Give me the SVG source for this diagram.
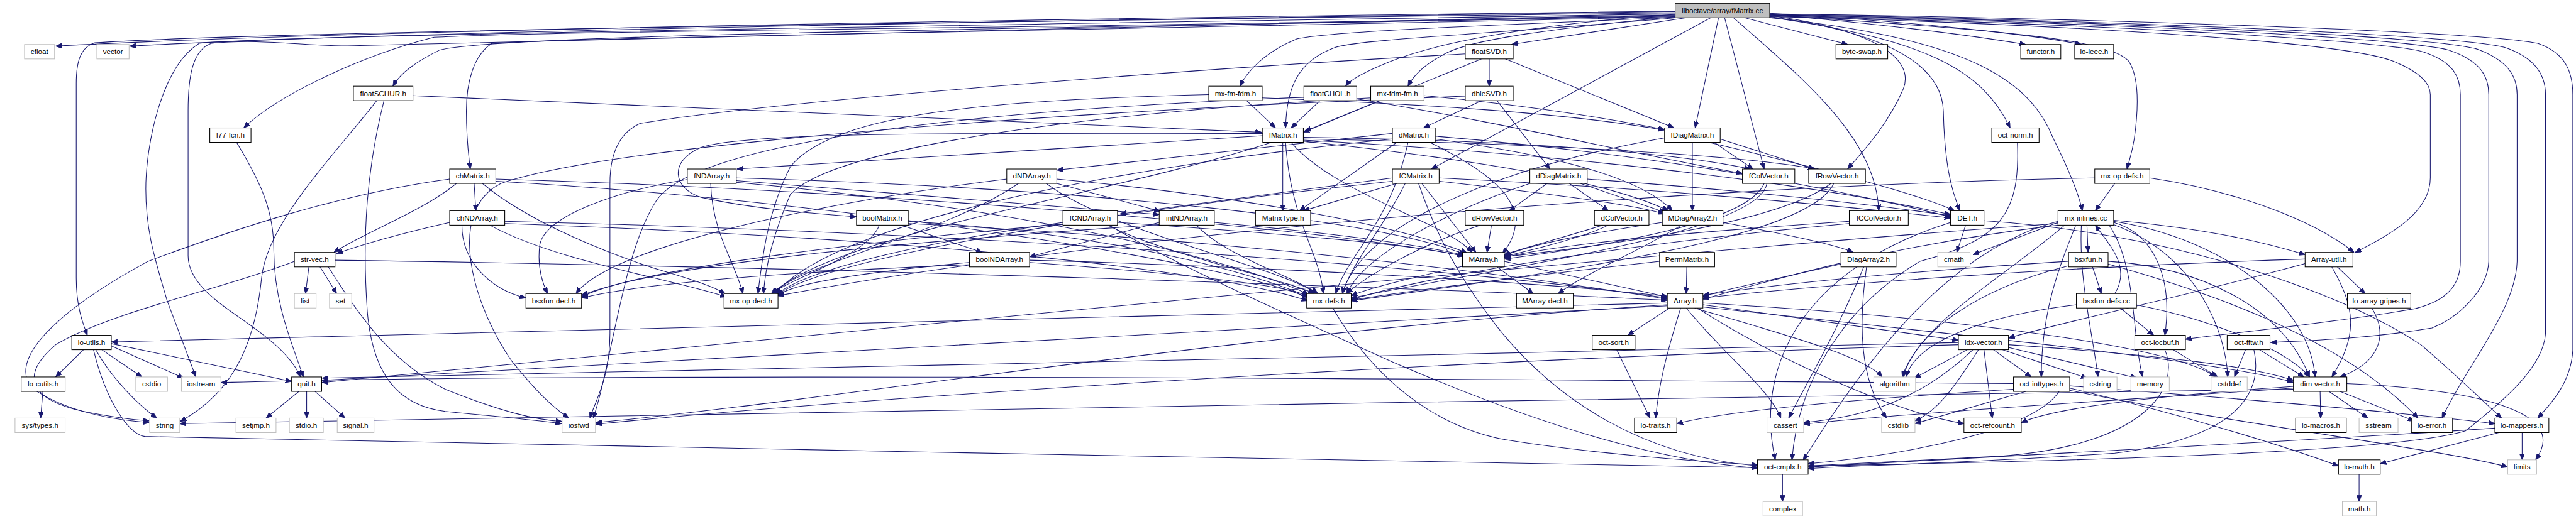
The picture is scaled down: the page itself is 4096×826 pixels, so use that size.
<svg xmlns="http://www.w3.org/2000/svg" width="4096" height="826" viewBox="0 0 4096 826">
<style>
.e path{fill:none;stroke:#191970;stroke-width:1.2;marker-end:url(#a)}
.n rect{fill:#fff;stroke:#000;stroke-width:1.2}
.s rect{fill:#fff;stroke:#bfbfbf;stroke-width:1.2}
.r rect{fill:#bfbfbf;stroke:#000;stroke-width:1.2}
text{font-family:"Liberation Sans",Arial,Helvetica,sans-serif;font-size:13.2px;text-anchor:middle;fill:#000}
</style>
<defs>
<marker id="a" viewBox="0 0 10 10" refX="10" refY="5" markerWidth="11" markerHeight="9" markerUnits="userSpaceOnUse" orient="auto" preserveAspectRatio="none"><path d="M0,0 L10,5 L0,10 z" fill="#191970" stroke="#191970"/></marker>
</defs>
<rect width="4096" height="826" fill="#fff"/>
<g transform="scale(0.8849)">
<g id="edges" class="e">
<path d="M3010,20 C2200,30 700,50 100,83"/>
<path d="M3010,21 C2200,32 800,52 233,83"/>
<path d="M3010,23 C2000,36 500,55 170,77 C145,85 137,110 137,150 L137,500 C137,550 148,580 157,603"/>
<path d="M3010,25 C2000,42 500,62 358,78 C290,120 262,260 262,340 C262,420 280,470 300,540 L352,678"/>
<path d="M3010,27 C2000,45 900,70 647,82 C560,86 480,68 380,78 C345,90 338,140 338,200 L338,460 C338,520 420,560 470,600 C510,630 530,655 540,678"/>
<path d="M3010,28 C2000,50 1000,55 780,67 C650,100 500,170 438,230"/>
<path d="M3010,29 C2000,50 900,60 790,90 C750,110 720,130 706,155"/>
<path d="M3010,30 C2200,50 1000,68 884,78 C850,100 838,150 838,200 C838,250 842,280 845,304"/>
<path d="M3012,31 C2700,45 2400,55 2330,70 C2270,95 2240,130 2228,155"/>
<path d="M3010,26 C2800,40 2600,70 2500,110 C2450,130 2425,145 2418,155"/>
<path d="M3012,30 C2800,50 2650,70 2600,95 C2560,115 2540,135 2530,155"/>
<path d="M3012,32 C2700,60 2450,70 2400,85 C2330,110 2312,160 2310,230"/>
<path d="M3030,32 L2716,80"/>
<path d="M3074,32 L2572,304"/>
<path d="M3088,32 L3046,230"/>
<path d="M3135,32 L3320,80"/>
<path d="M3099,32 L3170,304"/>
<path d="M3180,28 C3380,55 3440,110 3420,160 C3390,230 3340,280 3320,304"/>
<path d="M3115,32 C3250,150 3370,250 3376,379"/>
<path d="M3180,30 C3400,60 3490,120 3492,200 C3494,290 3505,340 3522,379"/>
<path d="M3180,31 C3450,70 3560,120 3612,230"/>
<path d="M3180,32 C3550,70 3650,150 3690,250 C3720,310 3735,350 3742,379"/>
<path d="M3180,26 C3400,45 3550,65 3640,80"/>
<path d="M3180,24 C3450,40 3650,62 3740,80"/>
<path d="M3180,27 C3600,55 3790,70 3825,110 C3845,140 3842,200 3835,250 C3830,280 3824,295 3822,304"/>
<path d="M3180,30 C3600,40 4200,70 4300,110 C4350,130 4367,150 4367,170 L4367,320 C4367,380 4300,420 4232,454"/>
<path d="M3180,29 C3700,40 4250,70 4350,92 C4410,110 4421,140 4421,170 L4421,470 C4421,510 4400,540 4340,555 C4200,580 4000,600 3927,610"/>
<path d="M3180,28 C3700,38 4300,65 4400,90 C4460,110 4472,140 4472,170 L4472,470 C4470,520 4420,570 4370,590 C4250,610 4150,612 4080,616"/>
<path d="M3180,27 C3700,36 4350,62 4450,88 C4510,110 4523,140 4523,170 L4523,470 C4520,560 4430,660 4388,752"/>
<path d="M3180,26 C3700,34 4400,60 4500,85 C4560,105 4574,140 4574,170 L4574,600 C4570,660 4500,720 4430,775 C4300,815 3700,830 3249,838"/>
<path d="M3180,25 C3700,32 4450,55 4560,78 C4610,95 4623,130 4623,170 L4623,630 C4620,690 4580,730 4560,752"/>
<path d="M2676,106 L2676,155"/>
<path d="M2662,106 L2345,236"/>
<path d="M2705,106 L3008,230"/>
<path d="M2633,97 C2200,120 1400,180 1150,222 C1110,240 1096,280 1096,330 L1096,600 C1096,680 1070,720 1060,752"/>
<path d="M2662,181 L2558,230"/>
<path d="M2690,181 L2785,304"/>
<path d="M2633,173 C1900,200 1100,260 900,330 C800,380 850,550 920,650 C960,700 990,730 1022,752"/>
<path d="M742,172 L2267,238"/>
<path d="M677,181 C600,280 480,400 470,500 C460,600 430,700 324,758"/>
<path d="M690,181 C660,300 650,420 660,560 C670,680 720,730 800,740 C900,750 960,755 1009,762"/>
<path d="M2240,181 L2292,230"/>
<path d="M2268,176 C2500,185 2800,200 2990,234"/>
<path d="M2172,170 C1800,180 1500,200 1420,300 C1380,380 1370,460 1362,528"/>
<path d="M2372,181 L2320,230"/>
<path d="M2438,178 C2700,220 2950,280 3131,312"/>
<path d="M2343,175 C1700,200 1250,260 1180,360 C1120,450 1100,650 1066,752"/>
<path d="M2480,181 L2342,238"/>
<path d="M2559,172 C2750,190 2900,215 2991,233"/>
<path d="M2463,176 C2000,200 1500,260 1420,350 C1390,420 1375,480 1372,528"/>
<path d="M425,256 C470,330 492,380 492,450 C492,550 530,630 545,678"/>
<path d="M2305,256 L2305,379"/>
<path d="M2269,244 L1324,304"/>
<path d="M2269,240 C1800,240 1350,235 1260,265 C1200,290 1210,340 1260,355 C1350,375 1450,383 1539,390"/>
<path d="M2342,247 C2700,252 3000,272 3145,304"/>
<path d="M2342,250 C2800,258 3150,282 3262,304"/>
<path d="M2342,252 C2900,282 3300,340 3505,386"/>
<path d="M2320,256 C2400,350 2600,400 2645,454"/>
<path d="M2342,254 C2700,292 2900,332 2998,379"/>
<path d="M2310,256 C2320,400 2370,450 2378,528"/>
<path d="M2285,256 C2000,350 1500,420 1388,528"/>
<path d="M2502,240 L1899,306"/>
<path d="M2510,256 L2335,379"/>
<path d="M2569,256 C2700,320 2760,380 2700,456"/>
<path d="M2579,250 C2800,280 2950,320 3005,379"/>
<path d="M2579,245 C3000,280 3300,340 3505,390"/>
<path d="M2530,256 C2500,400 2420,460 2400,528"/>
<path d="M2502,250 C2000,300 1500,400 1393,528"/>
<path d="M3041,256 L3041,379"/>
<path d="M3080,256 L3150,304"/>
<path d="M3091,250 L3260,304"/>
<path d="M3070,256 C3300,310 3450,350 3512,379"/>
<path d="M2991,248 C2700,300 2450,400 2412,528"/>
<path d="M3625,256 C3630,380 3600,430 3450,470 C3300,560 3230,700 3220,827"/>
<path d="M852,330 L855,379"/>
<path d="M820,330 C760,380 650,420 600,454"/>
<path d="M808,322 C600,350 400,420 266,470 C100,560 10,650 60,700 C120,740 200,755 268,760"/>
<path d="M891,322 C1500,340 2300,400 2630,460"/>
<path d="M891,326 C1500,360 2200,470 2350,535"/>
<path d="M867,330 C950,400 1100,460 1200,490 C1250,505 1280,515 1303,528"/>
<path d="M1235,323 C1100,345 980,390 970,440 C965,480 975,510 984,528"/>
<path d="M1323,325 L2083,386"/>
<path d="M1323,320 C2000,340 2500,400 2632,458"/>
<path d="M1323,328 C1900,380 2250,480 2352,530"/>
<path d="M1277,330 C1280,420 1320,470 1335,528"/>
<path d="M1899,330 L2085,380"/>
<path d="M1899,322 C2200,350 2500,400 2636,455"/>
<path d="M1880,330 C2000,420 2300,480 2366,528"/>
<path d="M1830,330 C1700,420 1450,470 1386,528"/>
<path d="M1809,322 C1500,360 1100,440 1035,528"/>
<path d="M2502,320 L2012,385"/>
<path d="M2510,330 L2342,379"/>
<path d="M2555,330 L2652,454"/>
<path d="M2586,320 C3000,340 3300,370 3505,392"/>
<path d="M2525,330 C2480,420 2430,470 2412,528"/>
<path d="M2586,326 C2800,350 2950,370 2990,385"/>
<path d="M2549,330 C2580,420 2620,500 2700,600 C2800,720 2950,820 3158,838"/>
<path d="M2502,326 C2000,380 1500,460 1396,530"/>
<path d="M2780,330 L2712,379"/>
<path d="M2820,330 L2890,379"/>
<path d="M2840,330 L2992,382"/>
<path d="M2852,322 C3100,340 3350,365 3505,388"/>
<path d="M2749,330 C2600,380 2450,460 2420,528"/>
<path d="M3170,330 C3140,400 2900,440 2703,466"/>
<path d="M3175,330 C3160,420 2700,480 2428,536"/>
<path d="M3290,330 C3200,400 2900,440 2703,462"/>
<path d="M3295,330 C3250,430 2800,490 2428,541"/>
<path d="M3800,330 L3765,379"/>
<path d="M3764,320 C3000,335 2000,420 1398,532"/>
<path d="M3863,320 C4000,340 4150,390 4230,454"/>
<path d="M808,400 C720,420 650,440 605,456"/>
<path d="M907,398 C1800,420 2600,480 2996,536"/>
<path d="M907,402 C1700,430 2200,490 2350,541"/>
<path d="M880,405 C1000,470 1200,500 1305,534"/>
<path d="M830,405 C830,470 880,520 945,536"/>
<path d="M1620,405 L1765,454"/>
<path d="M1632,398 C2000,420 2250,490 2352,534"/>
<path d="M1580,405 C1560,460 1420,500 1388,528"/>
<path d="M1632,402 C2200,430 2700,490 2996,538"/>
<path d="M2008,400 C2300,420 2550,440 2630,461"/>
<path d="M1990,405 C2100,460 2300,500 2362,528"/>
<path d="M1910,400 C1700,430 1450,480 1394,531"/>
<path d="M1910,403 C1600,430 1150,480 1045,534"/>
<path d="M1993,405 C2100,470 2300,560 2500,650 C2800,780 3000,830 3158,842"/>
<path d="M2083,400 L1850,462"/>
<path d="M2182,400 C2400,420 2550,440 2630,459"/>
<path d="M2083,404 C1700,430 1200,470 1045,531"/>
<path d="M2150,405 C2200,460 2330,500 2368,528"/>
<path d="M2680,405 L2672,454"/>
<path d="M2660,405 C2550,440 2450,500 2420,528"/>
<path d="M2880,405 C2800,430 2740,445 2703,458"/>
<path d="M2890,405 C2800,450 2500,500 2428,532"/>
<path d="M3096,400 C3200,420 3300,440 3330,454"/>
<path d="M2987,400 C2850,420 2750,440 2703,460"/>
<path d="M3021,405 C2950,450 2850,490 2800,528"/>
<path d="M3323,398 C3000,420 2800,440 2703,463"/>
<path d="M3323,402 C2900,440 2550,500 2428,539"/>
<path d="M3532,405 L3516,454"/>
<path d="M3565,397 C3900,420 4200,520 4350,620 C4420,680 4460,720 4495,752"/>
<path d="M3505,400 C3250,480 3150,650 3190,827"/>
<path d="M3698,400 L3545,458"/>
<path d="M3750,405 L3752,454"/>
<path d="M3698,398 C3500,450 3350,650 3240,828"/>
<path d="M3698,402 C3000,450 1500,600 578,688"/>
<path d="M3798,400 C3870,420 3905,500 3890,603"/>
<path d="M3730,405 C3700,480 3668,560 3668,678"/>
<path d="M3710,405 C3600,500 3450,580 3418,678"/>
<path d="M3740,405 C3735,500 3760,600 3770,678"/>
<path d="M3790,405 C3840,480 3830,600 3850,678"/>
<path d="M3798,404 C3950,460 4000,600 4003,678"/>
<path d="M3798,398 C4000,430 4150,550 4160,678"/>
<path d="M3798,396 C3950,410 4050,430 4142,458"/>
<path d="M3698,405 C3400,440 3200,500 3060,538"/>
<path d="M555,480 L549,528"/>
<path d="M575,480 L605,528"/>
<path d="M529,470 C400,520 200,560 100,620 C30,680 60,720 150,740 C200,750 240,755 268,757"/>
<path d="M602,468 C1500,480 2600,520 2996,540"/>
<path d="M590,480 C640,560 700,650 800,700 C900,740 960,755 1010,758"/>
<path d="M1850,472 C2100,490 2300,510 2350,532"/>
<path d="M1742,472 C1550,490 1420,510 1398,532"/>
<path d="M1742,476 C1400,490 1150,510 1045,536"/>
<path d="M1850,468 C2300,480 2800,510 2996,533"/>
<path d="M2703,470 L2996,534"/>
<path d="M2690,480 L2755,528"/>
<path d="M3031,480 L3030,528"/>
<path d="M2982,470 C2800,490 2550,520 2428,540"/>
<path d="M3308,475 C3200,500 3100,520 3060,533"/>
<path d="M3349,480 C3300,600 3240,700 3214,752"/>
<path d="M3354,480 C3340,580 3340,680 3390,752"/>
<path d="M3760,480 L3776,528"/>
<path d="M3717,470 C3400,490 3200,510 3060,531"/>
<path d="M3788,470 C3950,480 4100,550 4150,678"/>
<path d="M3717,478 C3550,520 3440,600 3420,678"/>
<path d="M3788,475 C3950,520 4200,600 4345,752"/>
<path d="M3800,528 C3830,480 3790,440 3765,405"/>
<path d="M3810,554 L3870,603"/>
<path d="M3838,548 C3950,570 4100,620 4150,678"/>
<path d="M3731,548 C3550,570 3440,620 3425,678"/>
<path d="M4142,466 C3700,480 3300,510 3060,536"/>
<path d="M4200,480 L4250,528"/>
<path d="M4190,480 C4230,550 4240,600 4190,678"/>
<path d="M4142,474 C3900,540 3700,580 3609,608"/>
<path d="M4262,554 C4290,600 4280,650 4205,678"/>
<path d="M3000,554 L2925,603"/>
<path d="M3020,554 C2990,650 2980,700 2975,752"/>
<path d="M3060,548 L3519,612"/>
<path d="M3060,552 C3500,600 4000,650 4121,688"/>
<path d="M3045,554 C3200,600 3350,640 3382,678"/>
<path d="M3030,554 C3100,640 3180,700 3200,752"/>
<path d="M3060,545 C3500,570 3900,620 3982,678"/>
<path d="M2996,548 C2200,600 1500,720 1071,760"/>
<path d="M3050,554 C3200,650 3400,740 3529,762"/>
<path d="M2996,550 C2000,600 1000,660 579,684"/>
<path d="M2996,545 C2000,570 1000,600 200,615"/>
<path d="M3535,629 L3440,680"/>
<path d="M3545,629 C3450,720 3350,750 3241,760"/>
<path d="M3555,629 C3510,700 3480,740 3441,757"/>
<path d="M3565,629 L3580,752"/>
<path d="M3582,629 L3650,678"/>
<path d="M3598,629 L3750,680"/>
<path d="M3609,625 L3840,680"/>
<path d="M3609,620 C3900,640 4050,660 4121,684"/>
<path d="M3519,620 C2500,650 1500,720 1071,763"/>
<path d="M3519,616 C2500,640 1200,670 579,680"/>
<path d="M3905,629 L3985,678"/>
<path d="M3890,629 C3920,700 3850,800 3600,820 C3400,830 3300,835 3249,838"/>
<path d="M4035,629 L4015,678"/>
<path d="M4060,629 L4140,678"/>
<path d="M4050,629 C4070,720 4000,790 3800,815 C3500,835 3300,838 3249,843"/>
<path d="M3640,704 L3441,762"/>
<path d="M3618,700 C3300,720 3100,740 3013,762"/>
<path d="M3719,698 C3900,740 4100,800 4202,838"/>
<path d="M3719,702 C4000,760 4400,810 4506,840"/>
<path d="M3700,704 C3650,780 3400,820 3249,834"/>
<path d="M3618,690 C2500,680 1000,670 397,688"/>
<path d="M3719,694 C4000,715 4300,740 4483,762"/>
<path d="M4169,704 L4170,752"/>
<path d="M4185,704 L4255,752"/>
<path d="M4205,704 L4338,757"/>
<path d="M4216,690 C4450,700 4620,740 4556,827"/>
<path d="M4121,695 C3900,710 3700,730 3632,760"/>
<path d="M4121,698 C3800,720 3400,745 3241,763"/>
<path d="M4121,700 C3000,720 1000,740 323,762"/>
<path d="M150,629 L100,678"/>
<path d="M183,629 L255,678"/>
<path d="M200,622 L330,680"/>
<path d="M172,629 C200,680 250,730 282,752"/>
<path d="M200,618 L524,686"/>
<path d="M168,629 C190,720 230,780 260,785 C1000,800 2500,830 3158,841"/>
<path d="M77,704 L73,752"/>
<path d="M537,704 L478,752"/>
<path d="M551,704 L551,752"/>
<path d="M566,704 L620,752"/>
<path d="M2905,629 L2965,752"/>
<path d="M2395,554 C2450,650 2550,760 2700,790 C2850,815 3050,830 3158,836"/>
<path d="M4483,770 C4200,790 3600,820 3249,840"/>
<path d="M4490,778 L4277,834"/>
<path d="M4532,778 L4532,827"/>
<path d="M4239,853 L4239,902"/>
<path d="M3203,853 L3203,902"/>
</g>
<g id="n-top" class="r"><rect x="3010" y="6" width="170" height="26"/><text x="3095" y="23.5">liboctave/array/fMatrix.cc</text></g>
<g id="n-cfloat" class="s"><rect x="44" y="80" width="54" height="26"/><text x="71" y="97.5">cfloat</text></g>
<g id="n-vector" class="s"><rect x="174" y="80" width="58" height="26"/><text x="203" y="97.5">vector</text></g>
<g id="n-floatSVD" class="n"><rect x="2633" y="80" width="86" height="26"/><text x="2676" y="97.5">floatSVD.h</text></g>
<g id="n-byteswap" class="n"><rect x="3299" y="80" width="93" height="26"/><text x="3345.5" y="97.5">byte-swap.h</text></g>
<g id="n-functor" class="n"><rect x="3631" y="80" width="72" height="26"/><text x="3667" y="97.5">functor.h</text></g>
<g id="n-loieee" class="n"><rect x="3728" y="80" width="70" height="26"/><text x="3763" y="97.5">lo-ieee.h</text></g>
<g id="n-floatSCHUR" class="n"><rect x="635" y="155" width="107" height="26"/><text x="688.5" y="172.5">floatSCHUR.h</text></g>
<g id="n-mxfmfdm" class="n"><rect x="2172" y="155" width="96" height="26"/><text x="2220" y="172.5">mx-fm-fdm.h</text></g>
<g id="n-floatCHOL" class="n"><rect x="2343" y="155" width="95" height="26"/><text x="2390.5" y="172.5">floatCHOL.h</text></g>
<g id="n-mxfdmfm" class="n"><rect x="2463" y="155" width="96" height="26"/><text x="2511" y="172.5">mx-fdm-fm.h</text></g>
<g id="n-dbleSVD" class="n"><rect x="2633" y="155" width="86" height="26"/><text x="2676" y="172.5">dbleSVD.h</text></g>
<g id="n-f77fcn" class="n"><rect x="377" y="230" width="74" height="26"/><text x="414" y="247.5">f77-fcn.h</text></g>
<g id="n-fMatrix" class="n"><rect x="2269" y="230" width="73" height="26"/><text x="2305.5" y="247.5">fMatrix.h</text></g>
<g id="n-dMatrix" class="n"><rect x="2502" y="230" width="77" height="26"/><text x="2540.5" y="247.5">dMatrix.h</text></g>
<g id="n-fDiagMatrix" class="n"><rect x="2991" y="230" width="100" height="26"/><text x="3041" y="247.5">fDiagMatrix.h</text></g>
<g id="n-octnorm" class="n"><rect x="3579" y="230" width="85" height="26"/><text x="3621.5" y="247.5">oct-norm.h</text></g>
<g id="n-chMatrix" class="n"><rect x="808" y="304" width="83" height="26"/><text x="849.5" y="321.5">chMatrix.h</text></g>
<g id="n-fNDArray" class="n"><rect x="1235" y="304" width="88" height="26"/><text x="1279" y="321.5">fNDArray.h</text></g>
<g id="n-dNDArray" class="n"><rect x="1809" y="304" width="90" height="26"/><text x="1854" y="321.5">dNDArray.h</text></g>
<g id="n-fCMatrix" class="n"><rect x="2502" y="304" width="84" height="26"/><text x="2544" y="321.5">fCMatrix.h</text></g>
<g id="n-dDiagMatrix" class="n"><rect x="2749" y="304" width="103" height="26"/><text x="2800.5" y="321.5">dDiagMatrix.h</text></g>
<g id="n-fColVector" class="n"><rect x="3131" y="304" width="94" height="26"/><text x="3178" y="321.5">fColVector.h</text></g>
<g id="n-fRowVector" class="n"><rect x="3250" y="304" width="102" height="26"/><text x="3301" y="321.5">fRowVector.h</text></g>
<g id="n-mxopdefs" class="n"><rect x="3764" y="304" width="99" height="26"/><text x="3813.5" y="321.5">mx-op-defs.h</text></g>
<g id="n-chNDArray" class="n"><rect x="808" y="379" width="99" height="26"/><text x="857.5" y="396.5">chNDArray.h</text></g>
<g id="n-boolMatrix" class="n"><rect x="1539" y="379" width="93" height="26"/><text x="1585.5" y="396.5">boolMatrix.h</text></g>
<g id="n-fCNDArray" class="n"><rect x="1910" y="379" width="98" height="26"/><text x="1959" y="396.5">fCNDArray.h</text></g>
<g id="n-intNDArray" class="n"><rect x="2083" y="379" width="99" height="26"/><text x="2132.5" y="396.5">intNDArray.h</text></g>
<g id="n-MatrixType" class="n"><rect x="2256" y="379" width="99" height="26"/><text x="2305.5" y="396.5">MatrixType.h</text></g>
<g id="n-dRowVector" class="n"><rect x="2633" y="379" width="105" height="26"/><text x="2685.5" y="396.5">dRowVector.h</text></g>
<g id="n-dColVector" class="n"><rect x="2865" y="379" width="98" height="26"/><text x="2914" y="396.5">dColVector.h</text></g>
<g id="n-MDiagArray2" class="n"><rect x="2987" y="379" width="109" height="26"/><text x="3041.5" y="396.5">MDiagArray2.h</text></g>
<g id="n-fCColVector" class="n"><rect x="3323" y="379" width="106" height="26"/><text x="3376" y="396.5">fCColVector.h</text></g>
<g id="n-DET" class="n"><rect x="3505" y="379" width="60" height="26"/><text x="3535" y="396.5">DET.h</text></g>
<g id="n-mxinlines" class="n"><rect x="3698" y="379" width="100" height="26"/><text x="3748" y="396.5">mx-inlines.cc</text></g>
<g id="n-strvec" class="n"><rect x="529" y="454" width="73" height="26"/><text x="565.5" y="471.5">str-vec.h</text></g>
<g id="n-boolNDArray" class="n"><rect x="1742" y="454" width="108" height="26"/><text x="1796" y="471.5">boolNDArray.h</text></g>
<g id="n-MArray" class="n"><rect x="2628" y="454" width="75" height="26"/><text x="2665.5" y="471.5">MArray.h</text></g>
<g id="n-PermMatrix" class="n"><rect x="2982" y="454" width="99" height="26"/><text x="3031.5" y="471.5">PermMatrix.h</text></g>
<g id="n-DiagArray2" class="n"><rect x="3308" y="454" width="99" height="26"/><text x="3357.5" y="471.5">DiagArray2.h</text></g>
<g id="n-cmath" class="s"><rect x="3482" y="454" width="58" height="26"/><text x="3511" y="471.5">cmath</text></g>
<g id="n-bsxfun" class="n"><rect x="3717" y="454" width="71" height="26"/><text x="3752.5" y="471.5">bsxfun.h</text></g>
<g id="n-ArrayUtil" class="n"><rect x="4142" y="454" width="86" height="26"/><text x="4185" y="471.5">Array-util.h</text></g>
<g id="n-list" class="s"><rect x="529" y="528" width="39" height="26"/><text x="548.5" y="545.5">list</text></g>
<g id="n-set" class="s"><rect x="592" y="528" width="40" height="26"/><text x="612" y="545.5">set</text></g>
<g id="n-bsxfundecl" class="n"><rect x="945" y="528" width="100" height="26"/><text x="995" y="545.5">bsxfun-decl.h</text></g>
<g id="n-mxopdecl" class="n"><rect x="1301" y="528" width="97" height="26"/><text x="1349.5" y="545.5">mx-op-decl.h</text></g>
<g id="n-mxdefs" class="n"><rect x="2348" y="528" width="80" height="26"/><text x="2388" y="545.5">mx-defs.h</text></g>
<g id="n-MArraydecl" class="n"><rect x="2725" y="528" width="102" height="26"/><text x="2776" y="545.5">MArray-decl.h</text></g>
<g id="n-Array" class="n"><rect x="2996" y="528" width="64" height="26"/><text x="3028" y="545.5">Array.h</text></g>
<g id="n-bsxfundefs" class="n"><rect x="3731" y="528" width="108" height="26"/><text x="3785" y="545.5">bsxfun-defs.cc</text></g>
<g id="n-loarraygripes" class="n"><rect x="4218" y="528" width="114" height="26"/><text x="4275" y="545.5">lo-array-gripes.h</text></g>
<g id="n-loutils" class="n"><rect x="129" y="603" width="71" height="26"/><text x="164.5" y="620.5">lo-utils.h</text></g>
<g id="n-octsort" class="n"><rect x="2861" y="603" width="77" height="26"/><text x="2899.5" y="620.5">oct-sort.h</text></g>
<g id="n-idxvector" class="n"><rect x="3519" y="603" width="90" height="26"/><text x="3564" y="620.5">idx-vector.h</text></g>
<g id="n-octlocbuf" class="n"><rect x="3836" y="603" width="91" height="26"/><text x="3881.5" y="620.5">oct-locbuf.h</text></g>
<g id="n-octfftw" class="n"><rect x="4002" y="603" width="77" height="26"/><text x="4040.5" y="620.5">oct-fftw.h</text></g>
<g id="n-locutils" class="n"><rect x="38" y="678" width="79" height="26"/><text x="77.5" y="695.5">lo-cutils.h</text></g>
<g id="n-cstdio" class="s"><rect x="244" y="678" width="57" height="26"/><text x="272.5" y="695.5">cstdio</text></g>
<g id="n-iostream" class="s"><rect x="326" y="678" width="71" height="26"/><text x="361.5" y="695.5">iostream</text></g>
<g id="n-quit" class="n"><rect x="524" y="678" width="54" height="26"/><text x="551" y="695.5">quit.h</text></g>
<g id="n-algorithm" class="s"><rect x="3367" y="678" width="75" height="26"/><text x="3404.5" y="695.5">algorithm</text></g>
<g id="n-octinttypes" class="n"><rect x="3618" y="678" width="101" height="26"/><text x="3668.5" y="695.5">oct-inttypes.h</text></g>
<g id="n-cstring" class="s"><rect x="3744" y="678" width="60" height="26"/><text x="3774" y="695.5">cstring</text></g>
<g id="n-memory" class="s"><rect x="3829" y="678" width="69" height="26"/><text x="3863.5" y="695.5">memory</text></g>
<g id="n-cstddef" class="s"><rect x="3973" y="678" width="65" height="26"/><text x="4005.5" y="695.5">cstddef</text></g>
<g id="n-dimvector" class="n"><rect x="4121" y="678" width="96" height="26"/><text x="4169" y="695.5">dim-vector.h</text></g>
<g id="n-systypes" class="s"><rect x="27" y="752" width="90" height="26"/><text x="72" y="769.5">sys/types.h</text></g>
<g id="n-string" class="s"><rect x="269" y="752" width="54" height="26"/><text x="296" y="769.5">string</text></g>
<g id="n-setjmp" class="s"><rect x="424" y="752" width="72" height="26"/><text x="460" y="769.5">setjmp.h</text></g>
<g id="n-stdio" class="s"><rect x="520" y="752" width="61" height="26"/><text x="550.5" y="769.5">stdio.h</text></g>
<g id="n-signal" class="s"><rect x="606" y="752" width="66" height="26"/><text x="639" y="769.5">signal.h</text></g>
<g id="n-iosfwd" class="s"><rect x="1010" y="752" width="60" height="26"/><text x="1040" y="769.5">iosfwd</text></g>
<g id="n-lotraits" class="n"><rect x="2937" y="752" width="76" height="26"/><text x="2975" y="769.5">lo-traits.h</text></g>
<g id="n-cassert" class="s"><rect x="3175" y="752" width="66" height="26"/><text x="3208" y="769.5">cassert</text></g>
<g id="n-cstdlib" class="s"><rect x="3381" y="752" width="60" height="26"/><text x="3411" y="769.5">cstdlib</text></g>
<g id="n-octrefcount" class="n"><rect x="3529" y="752" width="103" height="26"/><text x="3580.5" y="769.5">oct-refcount.h</text></g>
<g id="n-lomacros" class="n"><rect x="4125" y="752" width="91" height="26"/><text x="4170.5" y="769.5">lo-macros.h</text></g>
<g id="n-sstream" class="s"><rect x="4239" y="752" width="70" height="26"/><text x="4274" y="769.5">sstream</text></g>
<g id="n-loerror" class="n"><rect x="4333" y="752" width="74" height="26"/><text x="4370" y="769.5">lo-error.h</text></g>
<g id="n-lomappers" class="n"><rect x="4483" y="752" width="97" height="26"/><text x="4531.5" y="769.5">lo-mappers.h</text></g>
<g id="n-octcmplx" class="n"><rect x="3158" y="827" width="91" height="26"/><text x="3203.5" y="844.5">oct-cmplx.h</text></g>
<g id="n-lomath" class="n"><rect x="4202" y="827" width="75" height="26"/><text x="4239.5" y="844.5">lo-math.h</text></g>
<g id="n-limits" class="s"><rect x="4506" y="827" width="52" height="26"/><text x="4532" y="844.5">limits</text></g>
<g id="n-complex" class="s"><rect x="3168" y="902" width="71" height="26"/><text x="3203.5" y="919.5">complex</text></g>
<g id="n-mathh" class="s"><rect x="4209" y="902" width="61" height="26"/><text x="4239.5" y="919.5">math.h</text></g>
</g>
</svg>
